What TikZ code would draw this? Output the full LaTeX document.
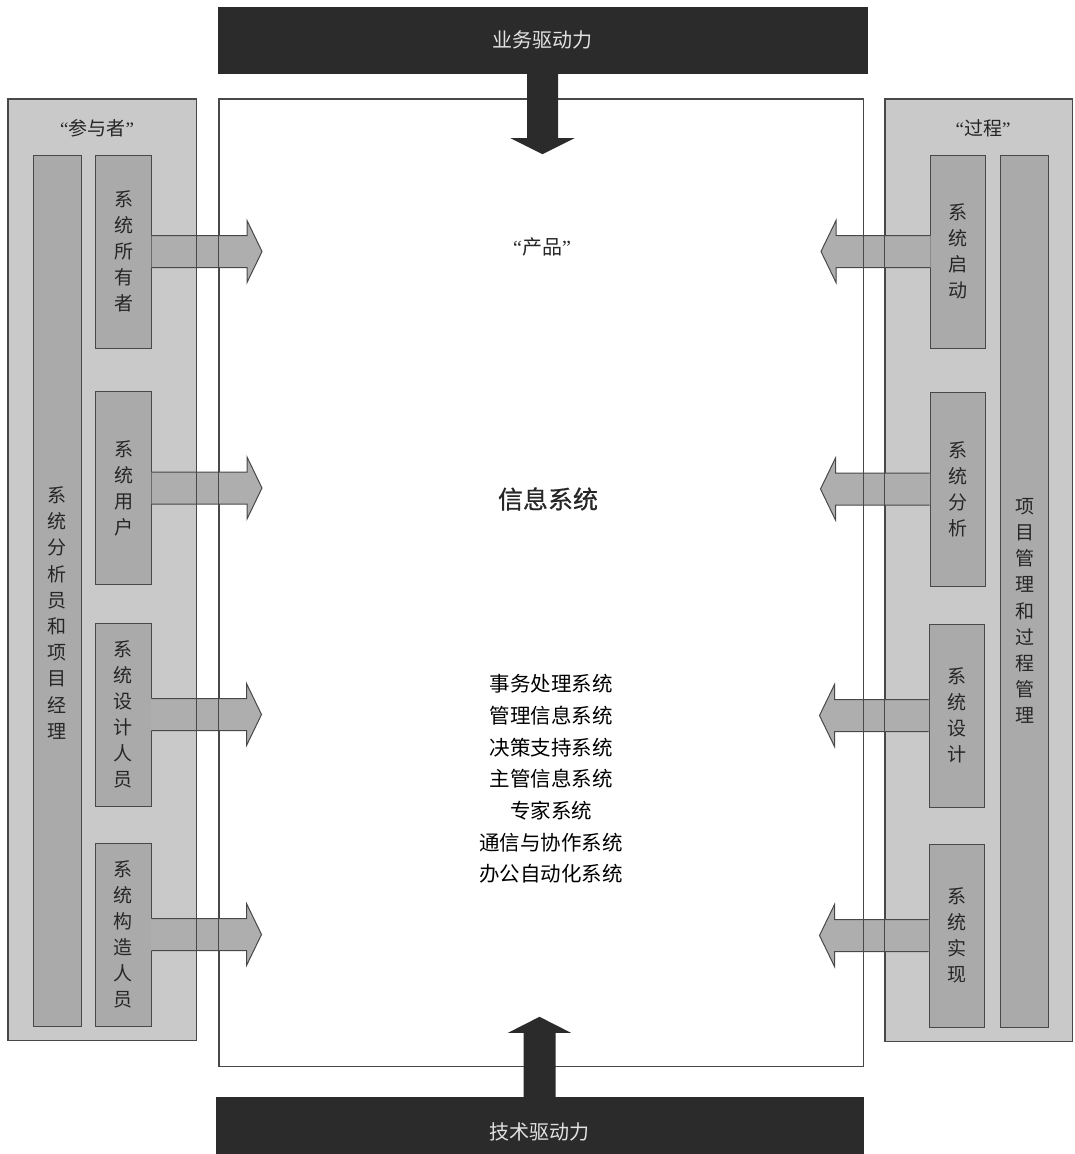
\documentclass[tikz,border=0pt]{standalone}
\usepackage{fontspec}
\newfontfamily\cjk{Noto Sans CJK SC}
\newfontfamily\cjkb[FakeBold=0.6]{Noto Sans CJK SC}
\newfontfamily\qf{Liberation Serif}
\definecolor{panelgray}{HTML}{C9C9C9}
\definecolor{bargray}{HTML}{AAAAAA}
\definecolor{arrgray}{HTML}{AEAEAE}
\definecolor{edgegray}{HTML}{484848}
\definecolor{darkfill}{HTML}{2B2B2B}
\definecolor{txtgray}{HTML}{262626}
\definecolor{lighttxt}{HTML}{E2E2E2}
\newcommand\rarr[1]{%
  \fill[arrgray] (#1.east) ++(-0.5,-16) -- ++(95.5,0) -- ++(0,-15) -- ++(15,31) -- ++(-15,31) -- ++(0,-15) -- ++(-95.5,0) -- cycle;
  \draw[edgegray,line width=1pt,line join=miter] (#1.east) ++(0,-16) -- ++(95,0) -- ++(0,-15) -- ++(15,31) -- ++(-15,31) -- ++(0,-15) -- ++(-95,0);}
\newcommand\larr[1]{%
  \fill[arrgray] (#1.west) ++(0.5,-16) -- ++(-94.5,0) -- ++(0,-15) -- ++(-15,31) -- ++(15,31) -- ++(0,-15) -- ++(94.5,0) -- cycle;
  \draw[edgegray,line width=1pt,line join=miter] (#1.west) ++(0,-16) -- ++(-94,0) -- ++(0,-15) -- ++(-15,31) -- ++(15,31) -- ++(0,-15) -- ++(94,0);}
\begin{document}
\begin{tikzpicture}[x=1pt,y=-1pt,
  panel/.style={draw=edgegray, line width=1pt, fill=panelgray, inner sep=0pt},
  bar/.style={draw=edgegray, line width=1pt, fill=bargray, inner sep=0pt, align=center,
    font=\cjk\fontsize{19}{26}\selectfont, text=txtgray},
  vtext/.style={inner sep=0pt, align=center, font=\cjk\fontsize{19}{26.2}\selectfont, text=txtgray},
  qlabel/.style={inner sep=0pt, font=\cjk\fontsize{19}{22}\selectfont, text=txtgray},
  darkbox/.style={fill=darkfill, draw=darkfill, inner sep=0pt, text=lighttxt,
    font=\cjk\fontsize{20}{24}\selectfont},
  darktext/.style={inner sep=0pt, text=lighttxt, font=\cjk\fontsize{20}{24}\selectfont},
  ctext/.style={inner sep=0pt, align=center, text=black}
]
\useasboundingbox (0,0) rectangle (1075,1154);
\fill[white] (0,0) rectangle (1075,1154);

% side panels
\node[panel, minimum width=188pt, minimum height=941pt] (lp) at (102,569.5) {};
\node[panel, minimum width=187pt, minimum height=942pt] (rp) at (978.5,570) {};
\node[qlabel] (lpl) at (97,128) {{\qf “}参与者{\qf ”}};
\node[qlabel] (rpl) at (983,128) {{\qf “}过程{\qf ”}};

% central box
\node[draw=edgegray, line width=1pt, fill=white, inner sep=0pt,
      minimum width=644pt, minimum height=967pt] (cb) at (541,582.5) {};

% tall bars
\node[bar, minimum width=48pt, minimum height=871pt] (lt) at (57,590.5) {};
\node[vtext] (ltt) at (57,613) {系\\统\\分\\析\\员\\和\\项\\目\\经\\理};
\node[bar, minimum width=48pt, minimum height=872pt] (rt) at (1024,591) {};
\node[vtext] (rtt) at (1025,611) {项\\目\\管\\理\\和\\过\\程\\管\\理};

% left small bars
\node[bar, minimum width=56pt, minimum height=193pt] (own) at (123.5,251.5) {系\\统\\所\\有\\者};
\node[bar, minimum width=56pt, minimum height=193pt] (usr) at (123.5,488) {系\\统\\用\\户};
\node[bar, minimum width=56pt, minimum height=183pt] (des) at (123,714.5) {系\\统\\设\\计\\人\\员};
\node[bar, minimum width=56pt, minimum height=183pt] (bld) at (123,934.5) {系\\统\\构\\造\\人\\员};

% right small bars
\node[bar, minimum width=55pt, minimum height=193pt] (ini) at (958,251.5) {系\\统\\启\\动};
\node[bar, minimum width=55pt, minimum height=194pt] (ana) at (957.5,489) {系\\统\\分\\析};
\node[bar, minimum width=55pt, minimum height=183pt] (sds) at (956.5,715.5) {系\\统\\设\\计};
\node[bar, minimum width=55pt, minimum height=183pt] (imp) at (956.5,935.5) {系\\统\\实\\现};

% block arrows
\rarr{own}\rarr{usr}\rarr{des}\rarr{bld}
\larr{ini}\larr{ana}\larr{sds}\larr{imp}

% borders over the arrows
\draw[edgegray, line width=1pt] (cb.north west) rectangle (cb.south east);
\draw[edgegray, line width=1pt] (lp.north west) rectangle (lp.south east);
\draw[edgegray, line width=1pt] (rp.north west) rectangle (rp.south east);

% driving forces
\node[darkbox, minimum width=649pt, minimum height=66pt] (tb) at (542.5,40) {业务驱动力};
\fill[darkfill] (tb.south) ++(-15.5,-1) -- ++(0,66) -- ++(-16.5,0) -- ++(32,16) -- ++(32,-16) -- ++(-16.5,0) -- ++(0,-66) -- cycle;
\node[darkbox, minimum width=647pt, minimum height=57pt] (bb) at (539.5,1125.5) {};
\node[darktext] (bbt) at (539,1132) {技术驱动力};
\fill[darkfill] (bb.north) ++(-16,1) -- ++(0,-65) -- ++(-15.5,0) -- ++(31.5,-16) -- ++(31.5,16) -- ++(-15.5,0) -- ++(0,65) -- cycle;

% central texts
\node[ctext, font=\cjk\fontsize{20}{24}\selectfont, text=txtgray] (prod) at (542,247) {{\qf “}产品{\qf ”}};
\node[ctext, font=\cjkb\fontsize{25}{30}\selectfont, text=txtgray] (is) at (548,499) {信息系统};
\node[ctext, font=\cjk\fontsize{20.5}{31.7}\selectfont] (list) at (551,779)
  {事务处理系统\\管理信息系统\\决策支持系统\\主管信息系统\\专家系统\\通信与协作系统\\办公自动化系统};
\end{tikzpicture}
\end{document}
